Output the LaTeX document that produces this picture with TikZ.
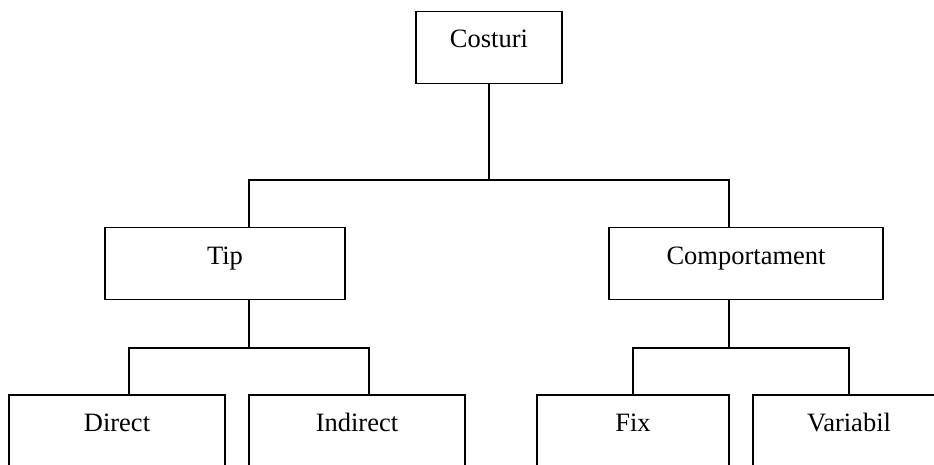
\documentclass[tikz,border=0pt]{standalone}
\usepackage{fontspec}
\setmainfont{Liberation Serif}
\usepackage{tikz}

\begin{document}
\begin{tikzpicture}[x=1pt,
            y=-1pt,
            line width=1.8pt,
            box/.style={draw,
                        inner sep=0pt,
                        minimum height=72pt,
                        text height=12pt,
                        text depth=11pt,
                        font=\fontsize{26.5}{30}\selectfont},
            wide/.style={box,minimum width=#1}]

        \useasboundingbox (0,0) rectangle (934,465);
        \clip (0,0) rectangle (934,465);

        \node[wide=146pt] (costuri)  at (489,47.5)  {Costuri};
        \node[wide=240pt] (tip)      at (225,263.5) {Tip};
        \node[wide=274pt] (comp)     at (746,263.5) {Comportament};
        \node[wide=216pt] (direct)   at (117,431)   {Direct};
        \node[wide=216pt] (indirect) at (357,431)   {Indirect};
        \node[wide=192pt] (fix)      at (633,431)   {Fix};
        \node[wide=192pt] (variabil) at (849,431)   {Variabil};

        % joints of the branches
        \coordinate (ct) at (249,180);
        \coordinate (cc) at (729,180);
        \coordinate (tb) at (249,348);
        \coordinate (cb) at (729,348);
        \coordinate (td) at (129,348);
        \coordinate (ti) at (369,348);
        \coordinate (cf) at (633,348);
        \coordinate (cv) at (849,348);

        \draw (costuri) -- (costuri |- ct);
        \draw (tip.north -| ct) -- (ct) -- (cc) -- (comp.north -| cc);

        \draw (tip.south -| tb) -- (tb);
        \draw (direct.north -| td) -- (td) -- (ti) -- (indirect.north -| ti);

        \draw (comp.south -| cb) -- (cb);
        \draw (fix.north -| cf) -- (cf) -- (cv) -- (variabil.north -| cv);

    \end{tikzpicture}
\end{document}
